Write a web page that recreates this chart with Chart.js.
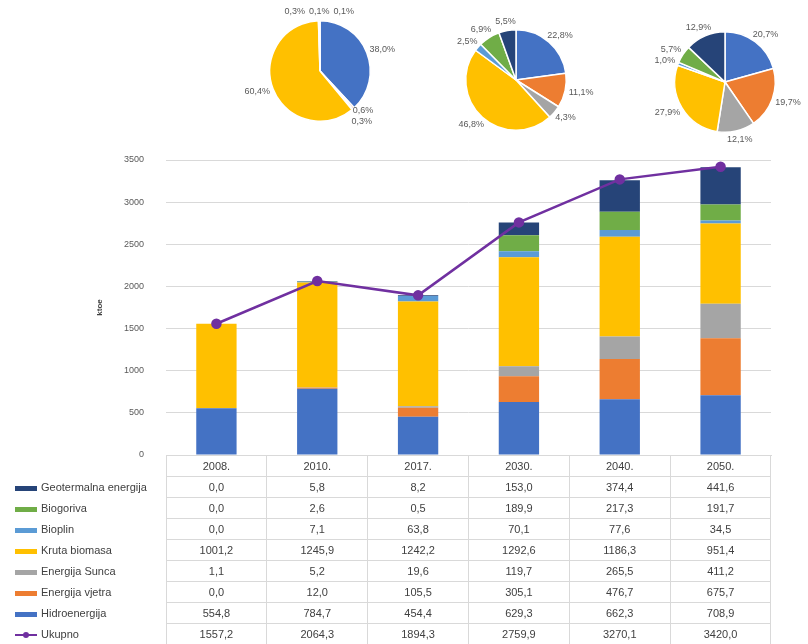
<!DOCTYPE html>
<html lang="hr">
<head>
  <meta charset="UTF-8" />
  <title>Potrošnja energije iz obnovljivih izvora</title>
  <script src="https://cdn.jsdelivr.net/npm/chart.js"></script>
  <style>
    body {
      margin: 0;
      width: 808px;
      height: 644px;
      overflow: hidden;
      position: relative;
      background: #fff;
      font-family: 'Liberation Sans', Arial, sans-serif;
    }
    #barChart { position: absolute; left: 0; top: 0; }
    .pie { position: absolute; }
    #dataTable {
      position: absolute;
      border-collapse: collapse;
      table-layout: fixed;
      font-size: 11px;
      color: #404040;
    }
    #dataTable tr { height: 21px; }
    #dataTable td {
      padding: 0;
      text-align: center;
      border: 1px solid #d9d9d9;
      white-space: nowrap;
      overflow: hidden;
    }
    #dataTable td.lbl {
      text-align: left;
      padding-left: 5px;
      border-left: none;
      border-top: none;
      border-bottom: none;
    }
    .key {
      display: inline-block;
      width: 22px;
      height: 5px;
      margin-right: 4px;
      vertical-align: middle;
      position: relative;
    }
    .key.line { height: 2px; }
    .key.line i {
      position: absolute;
      left: 8px;
      top: -2px;
      width: 6px;
      height: 6px;
      border-radius: 50%;
      background: inherit;
    }
  </style>
</head>
<body>

  <canvas id="barChart" width="808" height="644"></canvas>
  <canvas id="pie2010" class="pie" width="200" height="160" style="left:220px; top:-9px;"></canvas>
  <canvas id="pie2030" class="pie" width="200" height="160" style="left:416px; top:0px;"></canvas>
  <canvas id="pie2050" class="pie" width="200" height="160" style="left:625px; top:2px;"></canvas>
  <table id="dataTable"></table>

  <script>
    // godine i izvori (ktoe)
    const years = ['2008.', '2010.', '2017.', '2030.', '2040.', '2050.'];
    const hidroenergija = [554.8, 784.7, 454.4, 629.3, 662.3, 708.9];
    const energijaVjetra = [0.0, 12.0, 105.5, 305.1, 476.7, 675.7];
    const energijaSunca = [1.1, 5.2, 19.6, 119.7, 265.5, 411.2];
    const krutaBiomasa = [1001.2, 1245.9, 1242.2, 1292.6, 1186.3, 951.4];
    const bioplin = [0.0, 7.1, 63.8, 70.1, 77.6, 34.5];
    const biogoriva = [0.0, 2.6, 0.5, 189.9, 217.3, 191.7];
    const geotermalna = [0.0, 5.8, 8.2, 153.0, 374.4, 441.6];
    const ukupno = [1557.2, 2064.3, 1894.3, 2759.9, 3270.1, 3420.0];

    // udjeli (%) za pite, redom: hidro, vjetar, sunce, biomasa, bioplin, biogoriva, geotermalna
    const udio2010 = [38.0, 0.6, 0.3, 60.4, 0.3, 0.1, 0.1];
    const udio2030 = [22.8, 11.1, 4.3, 46.8, 2.5, 6.9, 5.5];
    const udio2050 = [20.7, 19.7, 12.1, 27.9, 1.0, 5.7, 12.9];

    const names = ['Hidroenergija', 'Energija vjetra', 'Energija Sunca', 'Kruta biomasa', 'Bioplin', 'Biogoriva', 'Geotermalna energija'];
    const series = [hidroenergija, energijaVjetra, energijaSunca, krutaBiomasa, bioplin, biogoriva, geotermalna];
    const colors = ['#4472C4', '#ED7D31', '#A5A5A5', '#FFC000', '#5B9BD5', '#70AD47', '#264478'];
    const lineColor = '#7030A0';

    const fmt = v => v.toFixed(1).replace('.', ',');

    const barDatasets = series.map((d, i) => ({
      type: 'bar',
      label: names[i],
      data: d,
      backgroundColor: colors[i],
      borderWidth: 0,
      stack: 'izvori',
      order: 1,
      barPercentage: 0.4,
      categoryPercentage: 1
    }));

    const barChart = new Chart(document.getElementById('barChart'), {
      data: {
        labels: years,
        datasets: [
          {
            type: 'line',
            label: 'Ukupno',
            data: ukupno,
            borderColor: lineColor,
            backgroundColor: lineColor,
            borderWidth: 2.5,
            pointRadius: 4,
            pointBackgroundColor: lineColor,
            pointBorderColor: lineColor,
            tension: 0,
            stack: 'ukupno',
            order: 0
          },
          ...barDatasets
        ]
      },
      options: {
        responsive: false,
        animation: false,
        layout: { padding: { top: 160, right: 37, bottom: 189, left: 0 } },
        plugins: { legend: { display: false }, tooltip: { enabled: false } },
        scales: {
          x: {
            stacked: true,
            ticks: { display: false },
            grid: { display: false, drawTicks: false },
            border: { color: '#d9d9d9' }
          },
          y: {
            stacked: true,
            min: 0,
            max: 3500,
            ticks: {
              stepSize: 500,
              padding: 22,
              color: '#595959',
              font: { size: 9 },
              callback: v => String(v)
            },
            grid: { color: '#d9d9d9', drawTicks: false },
            border: { display: false },
            title: {
              display: true,
              text: 'ktoe',
              color: '#404040',
              font: { size: 8, weight: 'bold' },
              padding: { top: 95, bottom: 0 }
            },
            afterFit(scale) { scale.width = 166; }
          }
        }
      }
    });

    // postoci oko pita, razmaknuti da se ne preklapaju
    const pieLabels = {
      id: 'pieLabels',
      afterDraw(chart) {
        const ctx = chart.ctx;
        const meta = chart.getDatasetMeta(0);
        const vals = chart.data.datasets[0].data;
        ctx.save();
        ctx.font = '9px "Liberation Sans", Arial, sans-serif';
        ctx.fillStyle = '#595959';
        ctx.textAlign = 'center';
        ctx.textBaseline = 'middle';
        const boxes = meta.data.map((arc, i) => {
          const p = arc.getProps(['x', 'y', 'startAngle', 'endAngle', 'outerRadius']);
          const mid = (p.startAngle + p.endAngle) / 2;
          const text = fmt(vals[i]) + '%';
          const w = ctx.measureText(text).width;
          const h = 10;
          const r = p.outerRadius + 4;
          const ax = p.x + Math.cos(mid) * r;
          const ay = p.y + Math.sin(mid) * r;
          return {
            text, w, h,
            x: ax + Math.cos(mid) * w / 2,
            y: ay + Math.sin(mid) * h / 2,
            vert: Math.abs(Math.sin(mid)) > 0.8
          };
        });
        for (let it = 0; it < 80; it++) {
          for (let i = 0; i < boxes.length; i++) {
            for (let j = i + 1; j < boxes.length; j++) {
              const a = boxes[i], b = boxes[j];
              const ox = (a.w + b.w) / 2 + 4 - Math.abs(a.x - b.x);
              const oy = (a.h + b.h) / 2 + 1 - Math.abs(a.y - b.y);
              if (ox > 0 && oy > 0) {
                if (a.vert && b.vert) {
                  // a lijevo od b (ili a prije b) -> a ide lijevo
                  const s = (a.x < b.x || (a.x === b.x && i < j) ? -1 : 1) * ox / 2;
                  a.x += s; b.x -= s;
                } else {
                  const s = (a.y <= b.y ? -1 : 1) * oy / 2;
                  a.y += s; b.y -= s;
                }
              }
            }
          }
        }
        boxes.forEach(b => ctx.fillText(b.text, b.x, b.y));
        ctx.restore();
      }
    };

    function makePie(id, shares) {
      new Chart(document.getElementById(id), {
        type: 'pie',
        data: {
          labels: names,
          datasets: [{ data: shares, backgroundColor: colors, borderColor: '#fff', borderWidth: 1.5 }]
        },
        options: {
          responsive: false,
          animation: false,
          layout: { padding: { top: 29, bottom: 29, left: 49, right: 49 } },
          plugins: { legend: { display: false }, tooltip: { enabled: false } }
        },
        plugins: [pieLabels]
      });
    }
    makePie('pie2010', udio2010);
    makePie('pie2030', udio2030);
    makePie('pie2050', udio2050);

    // tablica podataka ispod grafa, poravnata s kategorijama
    const area = barChart.chartArea;
    const table = document.getElementById('dataTable');
    const tableLeft = 10;
    table.style.left = tableLeft + 'px';
    table.style.top = Math.round(area.bottom) + 'px';
    table.style.width = (area.right - tableLeft) + 'px';

    const colW = (area.right - area.left) / years.length;
    let html = '<colgroup><col style="width:' + (area.left - tableLeft) + 'px">';
    years.forEach(() => { html += '<col style="width:' + colW + 'px">'; });
    html += '</colgroup>';
    html += '<tr><td class="lbl"></td>' + years.map(y => '<td>' + y + '</td>').join('') + '</tr>';
    for (let i = series.length - 1; i >= 0; i--) {
      html += '<tr><td class="lbl"><span class="key" style="background:' + colors[i] + '"></span>' + names[i] + '</td>' +
        series[i].map(v => '<td>' + fmt(v) + '</td>').join('') + '</tr>';
    }
    html += '<tr><td class="lbl"><span class="key line" style="background:' + lineColor + '"><i></i></span>Ukupno</td>' +
      ukupno.map(v => '<td>' + fmt(v) + '</td>').join('') + '</tr>';
    table.innerHTML = html;
  </script>
</body>
</html>
